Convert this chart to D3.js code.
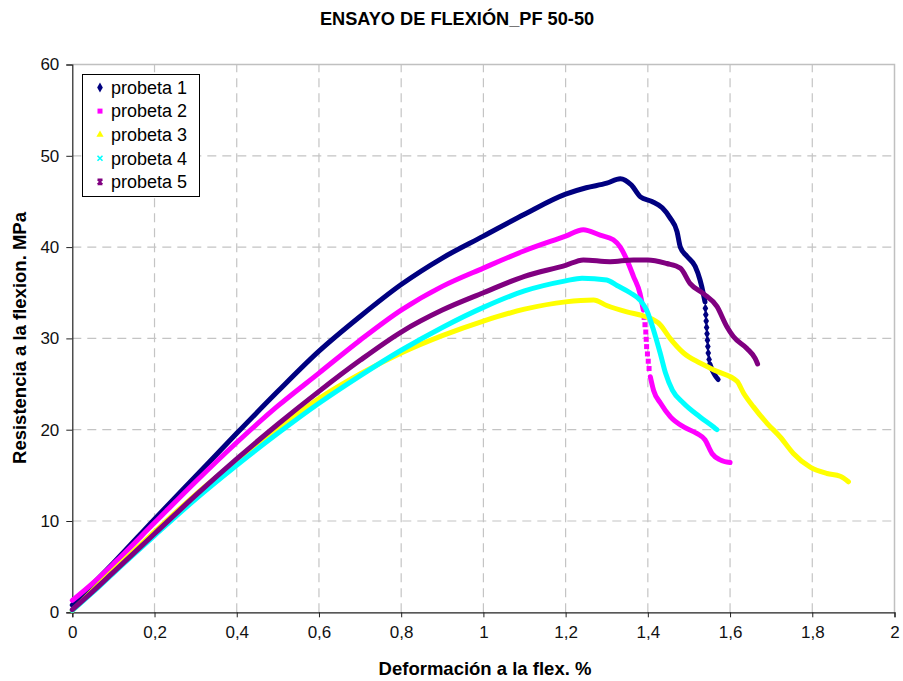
<!DOCTYPE html>
<html>
<head>
<meta charset="utf-8">
<script src="https://cdn.jsdelivr.net/npm/d3@7"></script>
<style>
  html, body { margin: 0; padding: 0; background: #fff; }
  svg { display: block; font-family: "Liberation Sans", Arial, sans-serif; }
</style>
</head>
<body>
<svg id="chart" width="903" height="681"></svg>
<script>
// ---------- data ----------
const title = "ENSAYO DE FLEXIÓN_PF 50-50";
const xLabel = "Deformación a la flex. %";
const yLabel = "Resistencia a la flexion. MPa";
const seriesNames = ["probeta 1", "probeta 2", "probeta 3", "probeta 4", "probeta 5"];
const seriesColors = ["#000080", "#ff00ff", "#ffff00", "#00ffff", "#800080"];
const xTickValues = [0, 0.2, 0.4, 0.6, 0.8, 1, 1.2, 1.4, 1.6, 1.8, 2];
const xTickLabels = ["0", "0,2", "0,4", "0,6", "0,8", "1", "1,2", "1,4", "1,6", "1,8", "2"];
const yTickValues = [0, 10, 20, 30, 40, 50, 60];
const yTickLabels = ["0", "10", "20", "30", "40", "50", "60"];

// probeta 1 : dense part, sparse part (separate markers), end part
const probeta1 = [[0,0.8],[0.05,3.1],[0.1,5.4],[0.2,10.2],[0.3,14.9],[0.4,19.6],[0.5,24.2],[0.6,28.6],[0.7,32.4],[0.8,35.9],[0.9,38.8],[1.0,41.2],[1.1,43.6],[1.2,45.8],[1.25,46.5],[1.3,47.0],[1.333,47.5],[1.36,46.8],[1.382,45.5],[1.41,45.0],[1.435,44.3],[1.454,43.2],[1.471,41.7],[1.479,40.0],[1.495,39.0],[1.515,37.9],[1.527,36.4],[1.535,34.9],[1.539,34.0]];
const probeta1Sparse = [[1.540,33.3],[1.541,32.6],[1.542,31.9],[1.543,31.2],[1.544,30.5],[1.545,29.8],[1.546,29.1],[1.547,28.4],[1.549,27.7]];
const probeta1End = [[1.551,27.2],[1.556,26.6],[1.563,26.0],[1.571,25.5]];

const probeta2 = [[0,1.3],[0.05,3.2],[0.1,5.3],[0.2,9.8],[0.3,14.3],[0.4,18.6],[0.5,22.6],[0.6,26.2],[0.7,29.8],[0.8,33.1],[0.9,35.7],[1.0,37.7],[1.1,39.6],[1.2,41.2],[1.243,41.9],[1.284,41.3],[1.316,40.8],[1.333,40.0],[1.349,38.6],[1.365,36.8],[1.381,34.9],[1.389,33.1]];
const probeta2Sparse = [[1.391,32.3],[1.393,31.5],[1.395,30.7],[1.396,29.9],[1.397,29.1],[1.399,28.3],[1.401,27.5],[1.403,26.7]];
const probeta2End = [[1.406,25.8],[1.414,24.3],[1.431,22.9],[1.455,21.4],[1.487,20.3],[1.519,19.6],[1.539,18.9],[1.556,17.4],[1.576,16.7],[1.60,16.4]];

const probeta3 = [[0,0.2],[0.05,2.4],[0.1,4.6],[0.2,8.8],[0.3,12.9],[0.4,16.6],[0.5,20.1],[0.6,23.4],[0.7,26.1],[0.8,28.4],[0.9,30.3],[1.0,31.9],[1.1,33.2],[1.2,34.0],[1.268,34.2],[1.30,33.6],[1.349,32.9],[1.393,32.4],[1.43,31.5],[1.454,30.0],[1.487,28.4],[1.527,27.3],[1.568,26.4],[1.617,25.3],[1.633,24.0],[1.657,22.5],[1.69,20.7],[1.722,19.2],[1.754,17.4],[1.795,15.9],[1.836,15.2],[1.868,14.9],[1.888,14.3]];

const probeta4 = [[0,0.2],[0.05,2.2],[0.1,4.3],[0.2,8.4],[0.3,12.4],[0.4,16.1],[0.5,19.6],[0.6,22.9],[0.7,25.9],[0.8,28.7],[0.9,31.2],[1.0,33.4],[1.1,35.2],[1.2,36.3],[1.24,36.6],[1.30,36.4],[1.325,35.8],[1.357,35.0],[1.381,34.2],[1.397,33.1],[1.414,30.9],[1.43,28.4],[1.443,26.2],[1.46,24.3],[1.487,22.9],[1.527,21.4],[1.56,20.3],[1.568,20.0]];

const probeta5 = [[0,0.3],[0.05,2.3],[0.1,4.4],[0.2,8.6],[0.3,12.8],[0.4,16.8],[0.5,20.6],[0.6,24.2],[0.7,27.6],[0.8,30.7],[0.9,33.1],[1.0,35.0],[1.1,36.8],[1.2,38.0],[1.243,38.6],[1.308,38.4],[1.365,38.6],[1.40,38.6],[1.446,38.2],[1.479,37.7],[1.503,36.0],[1.535,34.9],[1.568,33.5],[1.592,31.3],[1.608,30.2],[1.641,28.9],[1.661,27.8],[1.667,27.2]];

// ---------- layout ----------
const svg = d3.select("#chart");
const x = d3.scaleLinear().domain([0, 2]).range([72.3, 894.5]);
const y = d3.scaleLinear().domain([0, 60]).range([612.3, 64.5]);

// gridlines
const grid = svg.append("g");
grid.selectAll("line.gx").data(xTickValues.filter(d => d > 0 && d < 2)).join("line")
  .attr("x1", d => x(d)).attr("x2", d => x(d)).attr("y1", y(0)).attr("y2", y(60))
  .attr("stroke", "#c4c4c4").attr("stroke-width", 1.2).attr("stroke-dasharray", "9,6");
grid.selectAll("line.gy").data(yTickValues.filter(d => d > 0 && d < 60)).join("line")
  .attr("x1", x(0)).attr("x2", x(2)).attr("y1", d => y(d)).attr("y2", d => y(d))
  .attr("stroke", "#c4c4c4").attr("stroke-width", 1.2).attr("stroke-dasharray", "9,6");
// plot border top / right
grid.append("path")
  .attr("d", `M${x(0)},${y(60)}H${x(2)}V${y(0)}`)
  .attr("fill", "none").attr("stroke", "#c0c0c0").attr("stroke-width", 1.5);

// axes
const xAxis = d3.axisBottom(x).tickValues(xTickValues)
  .tickFormat((d, i) => xTickLabels[i]).tickSize(5).tickPadding(9);
const yAxis = d3.axisLeft(y).tickValues(yTickValues)
  .tickFormat((d, i) => yTickLabels[i]).tickSize(6).tickPadding(7);
const gx = svg.append("g").attr("transform", `translate(0,${y(0)})`).call(xAxis);
const gy = svg.append("g").attr("transform", `translate(${x(0)},0)`).call(yAxis);
[gx, gy].forEach(g => {
  g.select(".domain").attr("stroke", "#222").attr("stroke-width", 1.2);
  g.selectAll(".tick line").attr("stroke", "#222");
  g.selectAll("text").attr("font-size", 17).attr("fill", "#111")
    .attr("font-family", "'Liberation Sans', Arial, sans-serif");
});
gx.selectAll("text").attr("dy", "0.71em");

// series
const line = d3.line().x(d => x(d[0])).y(d => y(d[1])).curve(d3.curveMonotoneX);
const clipG = svg.append("g");
const solidParts = [
  [probeta1, probeta1End],
  [probeta2, probeta2End],
  [probeta3],
  [probeta4],
  [probeta5]
];
const sparseParts = [probeta1Sparse, probeta2Sparse, [], [], []];

function marker(g, i, cx, cy, s) {
  const c = seriesColors[i];
  if (i === 0) {
    g.append("path").attr("d", d3.symbol(d3.symbolDiamond, s * s * 1.1)())
      .attr("transform", `translate(${cx},${cy})`).attr("fill", c);
  } else if (i === 1) {
    g.append("rect").attr("x", cx - s / 2).attr("y", cy - s / 2)
      .attr("width", s).attr("height", s).attr("fill", c);
  } else if (i === 2) {
    g.append("path").attr("d", d3.symbol(d3.symbolTriangle, s * s * 0.9)())
      .attr("transform", `translate(${cx},${cy})`).attr("fill", c);
  } else if (i === 3) {
    const h = s / 2;
    g.append("path").attr("d", `M${cx - h},${cy - h}L${cx + h},${cy + h}M${cx - h},${cy + h}L${cx + h},${cy - h}`)
      .attr("stroke", c).attr("stroke-width", 1.6).attr("fill", "none");
  } else {
    const h = s / 2;
    g.append("path").attr("d", `M${cx - h},${cy - h}L${cx + h},${cy + h}M${cx - h},${cy + h}L${cx + h},${cy - h}M${cx - h},${cy - h}H${cx + h}M${cx - h},${cy + h}H${cx + h}`)
      .attr("stroke", c).attr("stroke-width", 1.6).attr("fill", "none");
  }
}

seriesNames.forEach((name, i) => {
  const g = clipG.append("g");
  solidParts[i].forEach(part => {
    g.append("path").datum(part).attr("d", line)
      .attr("fill", "none").attr("stroke", seriesColors[i])
      .attr("stroke-width", 5).attr("stroke-linejoin", "round").attr("stroke-linecap", "round");
  });
  sparseParts[i].forEach(p => marker(g, i, x(p[0]), y(p[1]), 5));
});

// legend
const leg = svg.append("g");
leg.append("rect").attr("x", 82.5).attr("y", 74.5).attr("width", 117).attr("height", 122)
  .attr("fill", "#fff").attr("stroke", "#000").attr("stroke-width", 1);
seriesNames.forEach((name, i) => {
  const cy = 87.5 + i * 23.6;
  marker(leg, i, 100, cy, 5);
  leg.append("text").attr("x", 111).attr("y", cy + 6.3).attr("font-size", 18)
    .attr("fill", "#000").text(name);
});

// titles
svg.append("text").attr("x", 457).attr("y", 25).attr("text-anchor", "middle")
  .attr("font-size", 18.2).attr("font-weight", "bold").text(title);
svg.append("text").attr("x", 485).attr("y", 675).attr("text-anchor", "middle")
  .attr("font-size", 18.5).attr("font-weight", "bold").text(xLabel);
svg.append("text").attr("transform", "translate(26,338) rotate(-90)").attr("text-anchor", "middle")
  .attr("font-size", 18.5).attr("font-weight", "bold").text(yLabel);
</script>
</body>
</html>
